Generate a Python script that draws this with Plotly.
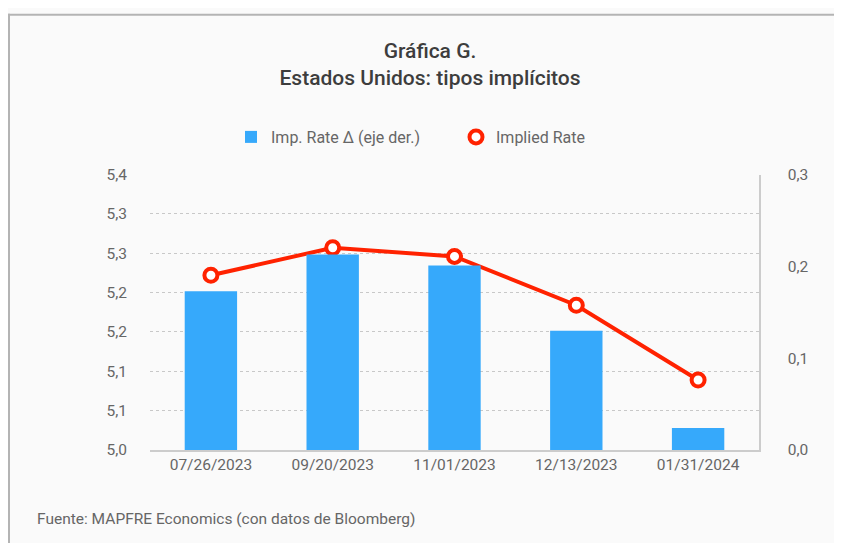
import plotly.graph_objects as go

categories = ["07/26/2023", "09/20/2023", "11/01/2023", "12/13/2023", "01/31/2024"]
implied_rate = [5.222, 5.257, 5.246, 5.184, 5.089]
imp_rate_delta = [0.173, 0.213, 0.201, 0.130, 0.024]
left_tickvals = [5.00, 5.05, 5.10, 5.15, 5.20, 5.25, 5.30, 5.35]
left_ticktext = ["5,0", "5,1", "5,1", "5,2", "5,2", "5,3", "5,3", "5,4"]
right_tickvals = [0.0, 0.1, 0.2, 0.3]
right_ticktext = ["0,0", "0,1", "0,2", "0,3"]

FONT = "Roboto"
W, H = 842, 543
L, R, T, B = 142, 91, 163, 101
PW, PH = W - L - R, H - T - B


def px(fx):
    return (fx - L) / PW


def py(fy):
    return (T + PH - fy) / PH


red = "#ff2200"
marker_style = dict(symbol="circle", size=13, color="white", line=dict(color=red, width=4))

fig = go.Figure()
fig.add_trace(go.Bar(
    x=categories, y=imp_rate_delta, name="Imp. Rate Δ (eje der.)",
    marker=dict(color="#36a9fb", line=dict(width=0)), yaxis="y2", width=0.43,
))
fig.add_trace(go.Scatter(
    x=categories, y=implied_rate, name="Implied Rate", mode="lines+markers",
    line=dict(color=red, width=4), marker=marker_style, yaxis="y", showlegend=False,
))
# legend entry (marker only, as in the reference legend)
fig.add_trace(go.Scatter(
    x=[None], y=[None], name="Implied Rate", mode="markers", marker=marker_style, yaxis="y",
))

tickfont = dict(family=FONT, size=15.5, color="#666666")
fig.update_layout(
    width=W, height=H,
    margin=dict(l=L, r=R, t=T, b=B),
    paper_bgcolor="#fafafa", plot_bgcolor="#fafafa",
    font=dict(family=FONT, color="#666666", size=15),
    title=dict(text="Gráfica G.<br>Estados Unidos: tipos implícitos",
               x=422 / W, xanchor="center", y=1 - 50 / H, yanchor="top",
               font=dict(family=FONT, size=21, color="#3d3d3d", weight=500)),
    legend=dict(orientation="h", x=448 / W, xref="container", xanchor="center",
                y=1 - 129 / H, yref="container", yanchor="middle",
                font=dict(family=FONT, size=16, color="#666666"), traceorder="normal",
                itemwidth=30, bgcolor="rgba(0,0,0,0)",
                entrywidth=180, entrywidthmode="pixels"),
    xaxis=dict(type="category", showline=True, linecolor="#cccccc", linewidth=1.5,
               ticks="", showgrid=False, tickfont=tickfont),
    yaxis=dict(range=[5.0, 5.35], tickvals=left_tickvals, ticktext=left_ticktext,
               showgrid=True, gridcolor="#c8c8c8", griddash="dot", gridwidth=1,
               zeroline=False, showline=False, ticks="", ticklabelstandoff=22,
               tickfont=tickfont),
    yaxis2=dict(range=[0, 0.3], tickvals=right_tickvals, ticktext=right_ticktext,
                overlaying="y", side="right", showgrid=False, zeroline=False,
                showline=True, linecolor="#cccccc", linewidth=1.5, ticks="",
                ticklabelstandoff=24, tickfont=tickfont),
    annotations=[dict(text="Fuente: MAPFRE Economics (con datos de Bloomberg)",
                      xref="paper", yref="paper", x=px(27), y=py(512),
                      xanchor="left", yanchor="middle", showarrow=False,
                      font=dict(family=FONT, size=15.5, color="#666666"))],
    shapes=[
        dict(type="rect", xref="paper", yref="paper", x0=px(0), x1=px(2),
             y0=py(H), y1=py(0), fillcolor="#b4b4b4", line=dict(width=0), layer="below"),
        dict(type="rect", xref="paper", yref="paper", x0=px(0), x1=px(W),
             y0=py(2), y1=py(0), fillcolor="#b4b4b4", line=dict(width=0), layer="below"),
    ],
)
fig.write_html("out.html")
